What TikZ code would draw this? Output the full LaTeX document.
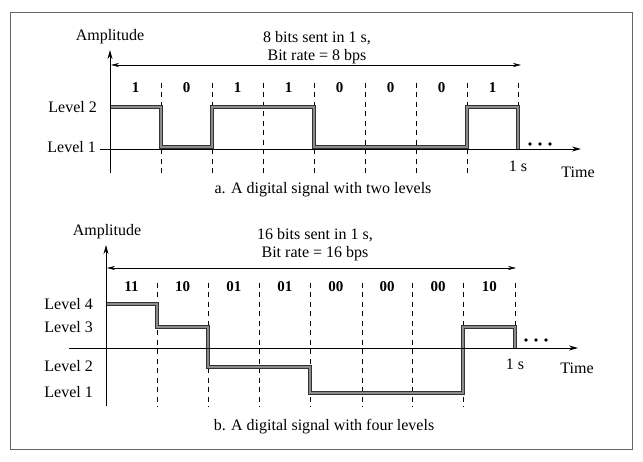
\documentclass[tikz,border=0pt]{standalone}
\usepackage{fontspec}
\setmainfont{Liberation Serif}
\usetikzlibrary{arrows.meta}
\begin{document}
\begin{tikzpicture}[x=1pt,y=-1pt,
  lab/.style={font=\fontsize{16}{19}\selectfont, inner sep=0pt},
  hdr/.style={font=\fontsize{16}{18}\selectfont, inner sep=0pt, align=center},
  bitlab/.style={font=\fontsize{15}{18}\selectfont\bfseries, inner sep=0pt},
  axisarrow/.style={line width=0.9pt, -{Stealth[length=9pt,width=5pt]}},
  spanarrow/.style={line width=0.6pt, {Stealth[length=8pt,width=4pt]}-{Stealth[length=8pt,width=4pt]}},
  tickline/.style={line width=0.7pt, dash pattern=on 5pt off 4.5pt},
  signal/.style={line width=2.2pt, draw=black!45, line join=miter,
    preaction={draw=black!80, line width=4.6pt, line join=miter}},
  dotmark/.style={circle, fill=black, inner sep=0pt, minimum size=3.6pt},
  frameline/.style={draw=black!60, line width=0.9pt}]

\useasboundingbox (0,0) rectangle (643,462);
\draw[frameline] (10,12) rectangle (632,449);

% ---------------- panel a ----------------
\node[lab] (ampA) at (110,37) {Amplitude};
\node[hdr] (hdrA) at (317,48) {8 bits sent in 1 s,\\Bit rate = 8 bps};
\coordinate (yaBot) at (110,173);
\coordinate (yaTop) at (110,50);
\coordinate (xaL) at (100,149);
\coordinate (xaR) at (581,149);
\coordinate (spA1) at (111,65);
\coordinate (spA2) at (521,65);
\foreach \x [count=\i] in {161,212,263,314,365,416,467} {
  \coordinate (taT\i) at (\x,83);
  \coordinate (taB\i) at (\x,173);
  \draw[tickline] (taT\i) -- (taB\i);
}
\coordinate (taT8) at (518,83);
\coordinate (taB8) at (518,105);
\draw[tickline] (taT8) -- (taB8);
\foreach \b [count=\i] in {1,0,1,1,0,0,0,1}
  \node[bitlab] (bitA\i) at ({110+51*(\i-0.5)},88) {\b};
\draw[signal] (110,107) -- (161,107) -- (161,147) -- (212,147) -- (212,107)
  -- (314,107) -- (314,147) -- (467,147) -- (467,107) -- (518,107) -- (518,149);
\draw[axisarrow] (xaL) -- (xaR);
\draw[axisarrow] (yaBot) -- (yaTop);
\draw[spanarrow] (spA1) -- (spA2);
\node[lab, anchor=east] (lvA2) at (97,107) {Level 2};
\node[lab, anchor=east] (lvA1) at (96,147) {Level 1};
\node[dotmark] (dA1) at (530,144) {};
\node[dotmark] (dA2) at (540,144) {};
\node[dotmark] (dA3) at (550,144) {};
\node[lab] (oneA) at (518,166) {1 s};
\node[lab] (timeA) at (578,172) {Time};
\node[lab] (capA) at (323,190) {a. A digital signal with two levels};

% ---------------- panel b ----------------
\node[lab] (ampB) at (107,232) {Amplitude};
\node[hdr] (hdrB) at (315,245) {16 bits sent in 1 s,\\Bit rate = 16 bps};
\coordinate (ybBot) at (106,406);
\coordinate (ybTop) at (106,245);
\coordinate (xbL) at (69,348);
\coordinate (xbR) at (578,348);
\coordinate (spB1) at (107,268);
\coordinate (spB2) at (516,268);
\foreach \x [count=\i] in {157,208,259,310,362,412,463} {
  \coordinate (tbT\i) at (\x,283);
  \coordinate (tbB\i) at (\x,407);
  \draw[tickline] (tbT\i) -- (tbB\i);
}
\coordinate (tbT8) at (515,283);
\coordinate (tbB8) at (515,325);
\draw[tickline] (tbT8) -- (tbB8);
\foreach \b [count=\i] in {11,10,01,01,00,00,00,10}
  \node[bitlab] (bitB\i) at ({106+51.1*(\i-0.5)},287) {\b};
\draw[signal] (106,304) -- (157,304) -- (157,327) -- (208,327) -- (208,367)
  -- (310,367) -- (310,393) -- (463,393) -- (463,327) -- (515,327) -- (515,348);
\draw[axisarrow] (xbL) -- (xbR);
\draw[axisarrow] (ybBot) -- (ybTop);
\draw[spanarrow] (spB1) -- (spB2);
\node[lab, anchor=east] (lvB4) at (93,304) {Level 4};
\node[lab, anchor=east] (lvB3) at (93,327) {Level 3};
\node[lab, anchor=east] (lvB2) at (93,366) {Level 2};
\node[lab, anchor=east] (lvB1) at (93,392) {Level 1};
\node[dotmark] (dB1) at (526,340) {};
\node[dotmark] (dB2) at (536,340) {};
\node[dotmark] (dB3) at (546,340) {};
\node[lab] (oneB) at (515,364) {1 s};
\node[lab] (timeB) at (577,368) {Time};
\node[lab] (capB) at (324,427) {b. A digital signal with four levels};
\end{tikzpicture}
\end{document}
